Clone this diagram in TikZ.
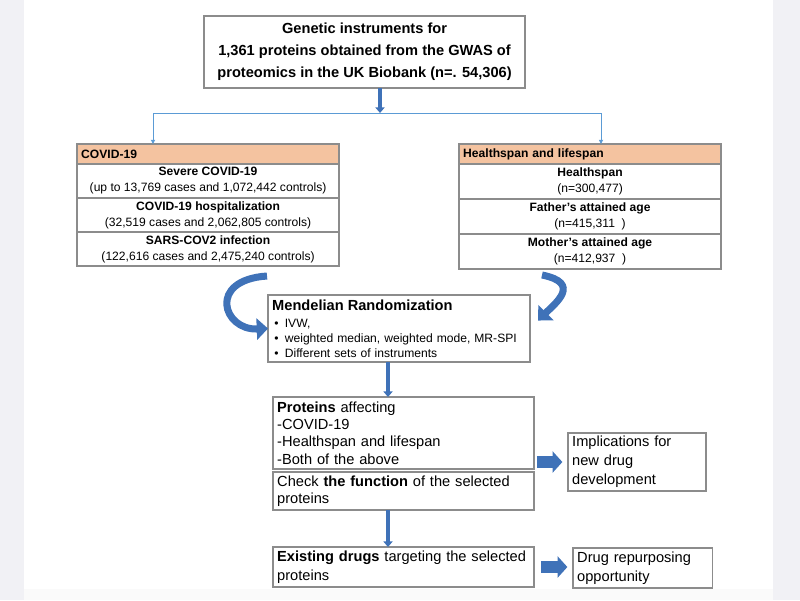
\documentclass[tikz,border=0pt]{standalone}
\usepackage{fontspec}
\setmainfont{Liberation Sans}
\usetikzlibrary{positioning,arrows.meta}

\definecolor{arrowblue}{HTML}{3F72B8}
\definecolor{lineblue}{HTML}{5B9BD5}
\definecolor{hdrorange}{HTML}{F4C3A0}
\definecolor{boxgray}{HTML}{8C8C8C}
\definecolor{pagegray}{HTML}{F1F1F5}
\definecolor{footgray}{HTML}{FAFAFA}

\newcommand\txtsize{\fontsize{10.4}{12.4}\selectfont}
\newcommand\widesize{\fontsize{10.4}{13.4}\selectfont}
\newcommand\tabsize{\fontsize{8.6}{11.4}\selectfont}
\newcommand\bulsize{\fontsize{8.6}{10.7}\selectfont}
\newcommand\bul{\hspace*{1.5pt}\makebox[7.5pt][l]{\textbullet}}

\begin{document}
\begin{tikzpicture}[
  x=0.025cm, y=-0.025cm,
  box/.style={draw=boxgray, line width=0.9pt, inner sep=3pt, outer sep=0pt, anchor=north west},
  hdr/.style={box, fill=hdrorange, font=\tabsize\bfseries, align=left, inner ysep=1pt,
              text width=6.34cm, minimum height=0.5cm},
  tabrow/.style={box, font=\tabsize, align=center, inner ysep=1pt, minimum width=6.55cm},
  txt/.style={box, font=\txtsize, align=left, inner ysep=1.5pt},
  downarrow/.style={draw=arrowblue, line width=2.2pt, -{Triangle[length=4pt,width=6.5pt]}},
  branch/.style={draw=lineblue, line width=0.7pt},
  curlyarrow/.style={draw=arrowblue, line width=5pt, -{Triangle[length=8pt,width=15pt]}},
  fatarrow/.style={draw=arrowblue, line width=8pt, -{Triangle[length=7pt,width=15pt]}}
]
\useasboundingbox (0,0) rectangle (800,600);

% page frame
\fill[pagegray] (0,0) rectangle (24,600);
\fill[pagegray] (773,0) rectangle (800,600);
\fill[footgray] (24,589) rectangle (773,600);

% source of the instruments
\node[box, align=center, minimum width=8.025cm, minimum height=1.8cm,
      font=\fontsize{10.4}{15.6}\selectfont\bfseries] (gen) at (204,16)
  {Genetic instruments for\\1,361 proteins obtained from the GWAS of\\proteomics in the UK Biobank (n=. 54,306)};

% outcomes
\node[hdr] (covhdr) at (77,144) {COVID-19};
\node[tabrow, minimum height=0.85cm, below=0pt of covhdr] (sev)
  {\textbf{Severe COVID-19}\\(up to 13,769 cases and 1,072,442 controls)};
\node[tabrow, minimum height=0.85cm, below=0pt of sev] (hosp)
  {\textbf{COVID-19 hospitalization}\\(32,519 cases and 2,062,805 controls)};
\node[tabrow, minimum height=0.85cm, below=0pt of hosp] (inf)
  {\textbf{SARS-COV2 infection}\\(122,616 cases and 2,475,240 controls)};

\node[hdr] (lifehdr) at (459,144) {Healthspan and lifespan};
\node[tabrow, minimum height=0.875cm, below=0pt of lifehdr] (hspan)
  {\textbf{Healthspan}\\(n=300,477)};
\node[tabrow, minimum height=0.875cm, below=0pt of hspan] (father)
  {\textbf{Father's attained age}\\(n=415,311~~)};
\node[tabrow, minimum height=0.875cm, below=0pt of father] (mother)
  {\textbf{Mother's attained age}\\(n=412,937~~)};

% analysis
\node[box, align=left, font=\bulsize, text width=6.34cm, minimum height=1.675cm] (mr) at (268,295)
  {{\fontsize{10.4}{12}\selectfont\bfseries Mendelian Randomization}\\[1.5pt]
   \bul IVW,\\
   \bul weighted median, weighted mode, MR-SPI\\
   \bul Different sets of instruments};

\node[txt, text width=6.315cm, minimum height=1.8cm] (prot) at (273,397)
  {\textbf{Proteins} affecting\\-COVID-19\\-Healthspan and lifespan\\-Both of the above};
\node[txt, text width=6.315cm, minimum height=0.95cm, below=2.1pt of prot] (func)
  {Check \textbf{the function} of the selected\\proteins};
\node[txt, font=\widesize, text width=3.24cm, minimum height=1.45cm] (impl) at (568,433)
  {Implications for\\new drug\\development};

\node[txt, font=\widesize, text width=6.315cm, minimum height=1.0cm] (exist) at (273,547)
  {\textbf{Existing drugs} targeting the selected\\proteins};
\node[txt, font=\widesize, text width=3.27cm, minimum height=1.0cm] (drug) at (573,548)
  {Drug repurposing\\opportunity};

% connectors
\coordinate (split) at (380,113);
\coordinate (bl) at (153,113);
\coordinate (br) at (601,113);
\draw[downarrow, line width=3pt] (gen.south -| split) -- (split);
\draw[branch] (bl) -- (br);
\foreach \c/\n in {bl/covhdr, br/lifehdr}
  \draw[branch, -{Triangle[length=3pt,width=3pt]}] (\c) -- (\c |- \n.north);

\coordinate (cl) at (267,276);
\coordinate (cr) at (542,275);
\draw[curlyarrow] (cl) .. controls +(-60,4) and +(-45,2) .. (mr.west);
\draw[curlyarrow, shorten >=8pt] (cr) .. controls +(40,8) and +(25,-25) .. (mr.east);

\draw[downarrow] (mr.south -| 388,0) -- (prot.north -| 388,0);
\draw[downarrow] (func.south -| 388,0) -- (exist.north -| 388,0);

\draw[fatarrow, shorten <=2pt, shorten >=4pt] (prot.east |- impl.west) -- (impl.west);
\draw[fatarrow, shorten <=5pt, shorten >=4pt] (exist.east) -- (exist.east -| drug.west);

\end{tikzpicture}
\end{document}
